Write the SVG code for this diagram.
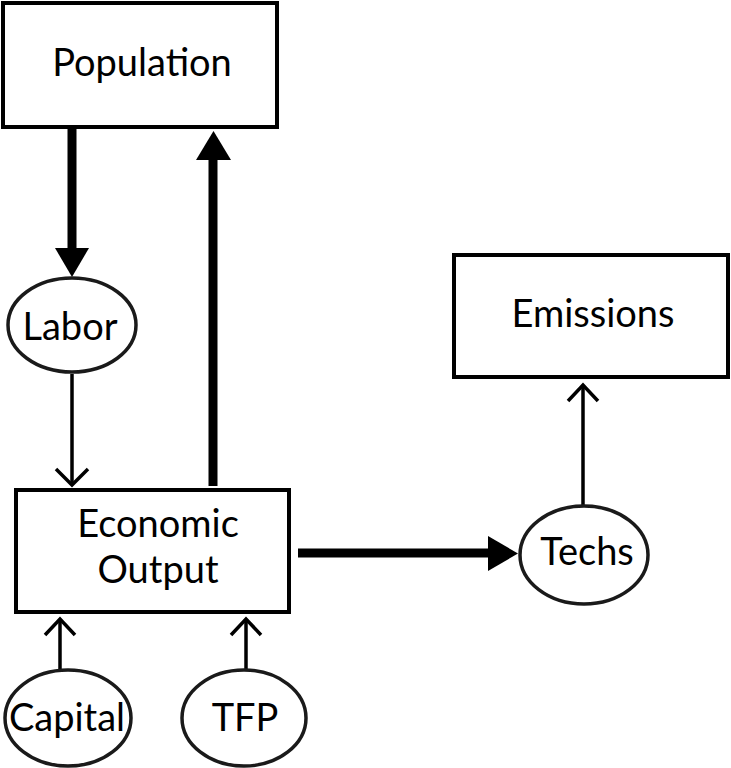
<svg xmlns="http://www.w3.org/2000/svg" width="731" height="768" viewBox="0 0 731 768">
<style>
.box{fill:#fff;stroke:#000;stroke-width:4}
.ell{fill:#fff;stroke:#1a1a1a;stroke-width:3.5}
.lbl{font-family:Lato,"Noto Sans",sans-serif;font-size:38px;fill:#000;text-anchor:middle}
.thick{stroke:#000;stroke-width:9;fill:none}
.thin{stroke:#000;stroke-width:3.5;fill:none}
.head{fill:#000}
.open{stroke:#000;stroke-width:3.5;fill:none}
</style>
<rect width="731" height="768" fill="#fff"/>
<g id="connectors">
<g id="pop-labor"><line class="thick" x1="72" y1="127" x2="72" y2="250"/><polygon class="head" points="55,248 89,248 72,277"/></g>
<g id="econ-pop"><line class="thick" x1="213" y1="486" x2="213" y2="158"/><polygon class="head" points="196,160 231,160 213.5,131"/></g>
<g id="labor-econ"><line class="thin" x1="72" y1="374" x2="72" y2="485"/><polyline class="open" points="56,469 72,485 88,469"/></g>
<g id="econ-techs"><line class="thick" x1="298" y1="553" x2="490" y2="553"/><polygon class="head" points="488,536 488,571 518,553.5"/></g>
<g id="techs-emis"><line class="thin" x1="583" y1="505" x2="583" y2="385"/><polyline class="open" points="568,401 583,385 598,401"/></g>
<g id="cap-econ"><line class="thin" x1="60" y1="669" x2="60" y2="619"/><polyline class="open" points="45,635 60,619 75,635"/></g>
<g id="tfp-econ"><line class="thin" x1="246" y1="669" x2="246" y2="619"/><polyline class="open" points="231,635 246,619 261,635"/></g>
</g>
<g id="population"><rect class="box" x="3" y="3" width="274" height="124"/><text class="lbl" x="142" y="76">Population</text></g>
<g id="labor"><ellipse class="ell" cx="72" cy="325" rx="64" ry="47"/><text class="lbl" x="70" y="340">Labor</text></g>
<g id="economic-output"><rect class="box" x="16" y="490" width="273" height="122"/><text class="lbl" x="158" y="537">Economic</text><text class="lbl" x="158" y="583">Output</text></g>
<g id="emissions"><rect class="box" x="454" y="255" width="274" height="122"/><text class="lbl" x="593" y="327">Emissions</text></g>
<g id="techs"><ellipse class="ell" cx="584" cy="555" rx="64" ry="49"/><text class="lbl" x="587" y="565">Techs</text></g>
<g id="capital"><ellipse class="ell" cx="68" cy="718" rx="63" ry="48"/><text class="lbl" x="67" y="731">Capital</text></g>
<g id="tfp"><ellipse class="ell" cx="244" cy="718" rx="62" ry="48"/><text class="lbl" x="245" y="731">TFP</text></g>
</svg>
